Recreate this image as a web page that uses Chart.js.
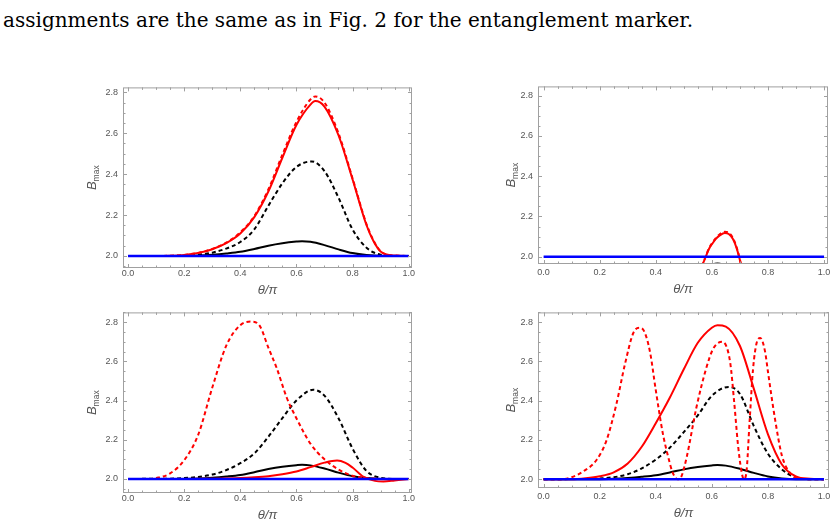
<!DOCTYPE html>
<html>
<head>
<meta charset="utf-8">
<script src="https://cdn.jsdelivr.net/npm/chart.js@4.4.1/dist/chart.umd.min.js"></script>
<style>
  body { margin: 0; background: #fff; width: 836px; height: 526px; overflow: hidden; position: relative; }
  .panel { position: absolute; }
  #caption { position: absolute; left: 3px; top: 7px; white-space: nowrap; font-family: "DejaVu Serif", serif; font-size: 20px; line-height: 26px; color: #000; }
</style>
</head>
<body>
<div id="caption">assignments are the same as in Fig. 2 for the entanglement marker.</div>
<canvas class="panel" id="c1"></canvas>
<canvas class="panel" id="c2"></canvas>
<canvas class="panel" id="c3"></canvas>
<canvas class="panel" id="c4"></canvas>
<script>
// tick labels
const X_TICKS = [0, 0.2, 0.4, 0.6, 0.8, 1.0];
const Y_TICKS = [2.0, 2.2, 2.4, 2.6, 2.8];

// [theta/pi, Bmax]
const blueLine = [[0, 2.0], [1, 2.0]];

// top left
const p1BlackSolid = [[0,2.0],[0.2,2.0],[0.25,2.002],[0.3,2.006],[0.35,2.012],[0.4,2.02],[0.45,2.034],[0.5,2.05],[0.55,2.062],[0.6,2.07],[0.62,2.072],[0.65,2.069],[0.7,2.053],[0.75,2.032],[0.8,2.014],[0.85,2.004],[0.9,2.0],[1,2.0]];
const p1BlackDashed = [[0,2.0],[0.15,2.0],[0.2,2.002],[0.25,2.006],[0.3,2.016],[0.35,2.036],[0.4,2.068],[0.45,2.13],[0.5,2.245],[0.55,2.355],[0.6,2.435],[0.655,2.462],[0.7,2.415],[0.75,2.285],[0.8,2.13],[0.85,2.04],[0.9,2.006],[0.95,2.0],[1,2.0]];
const p1RedSolid = [[0,2.0],[0.1,2.0],[0.15,2.001],[0.2,2.005],[0.25,2.015],[0.3,2.033],[0.35,2.063],[0.4,2.11],[0.45,2.19],[0.5,2.315],[0.55,2.48],[0.6,2.64],[0.65,2.74],[0.667,2.757],[0.7,2.73],[0.75,2.59],[0.8,2.375],[0.85,2.15],[0.875,2.072],[0.9,2.022],[0.95,2.002],[1,2.0]];
const p1RedDashed = [[0,2.0],[0.1,2.0],[0.15,2.001],[0.2,2.005],[0.25,2.015],[0.3,2.034],[0.35,2.065],[0.4,2.115],[0.45,2.195],[0.5,2.325],[0.55,2.495],[0.6,2.655],[0.65,2.765],[0.667,2.78],[0.7,2.75],[0.75,2.6],[0.8,2.38],[0.85,2.155],[0.875,2.075],[0.9,2.023],[0.95,2.002],[1,2.0]];

// top right
const p2BlackSolid = [[0.59,1.94],[0.605,1.962],[0.62,1.967],[0.635,1.962],[0.65,1.94]];
const p2RedSolid = [[0.555,1.92],[0.565,1.955],[0.578,2.0],[0.59,2.04],[0.6,2.062],[0.615,2.09],[0.628,2.106],[0.646,2.118],[0.66,2.113],[0.675,2.088],[0.687,2.048],[0.697,2.0],[0.704,1.96],[0.71,1.93]];
const p2RedDashed = [[0.555,1.92],[0.565,1.956],[0.578,2.002],[0.59,2.043],[0.6,2.066],[0.615,2.095],[0.628,2.112],[0.646,2.124],[0.66,2.119],[0.675,2.093],[0.687,2.052],[0.697,2.003],[0.704,1.962],[0.71,1.93]];

// bottom left
const p3BlackSolid = [[0,2.0],[0.2,2.0],[0.25,2.002],[0.3,2.006],[0.35,2.012],[0.4,2.02],[0.45,2.034],[0.5,2.05],[0.55,2.062],[0.6,2.07],[0.62,2.072],[0.65,2.069],[0.7,2.053],[0.75,2.032],[0.8,2.014],[0.85,2.004],[0.9,2.0],[1,2.0]];
const p3BlackDashed = [[0,2.0],[0.15,2.001],[0.2,2.004],[0.25,2.01],[0.3,2.022],[0.35,2.045],[0.4,2.08],[0.45,2.13],[0.5,2.215],[0.55,2.31],[0.6,2.4],[0.66,2.455],[0.7,2.425],[0.75,2.31],[0.8,2.155],[0.85,2.04],[0.9,2.006],[0.95,2.0],[1,2.0]];
const p3RedSolid = [[0,2.0],[0.2,2.0],[0.3,2.001],[0.4,2.004],[0.45,2.008],[0.5,2.014],[0.55,2.024],[0.6,2.038],[0.65,2.06],[0.7,2.083],[0.745,2.094],[0.775,2.082],[0.8,2.058],[0.84,2.01],[0.88,1.99],[0.91,1.987],[0.95,1.992],[1,2.0]];
const p3RedDashed = [[0,2.0],[0.08,2.0],[0.1,2.004],[0.15,2.028],[0.2,2.095],[0.25,2.225],[0.3,2.465],[0.35,2.68],[0.4,2.785],[0.44,2.803],[0.47,2.78],[0.5,2.67],[0.53,2.565],[0.566,2.413],[0.6,2.31],[0.65,2.18],[0.7,2.1],[0.75,2.048],[0.8,2.016],[0.85,2.004],[0.9,2.0],[1,2.0]];

// bottom right
const p4BlackSolid = [[0,2.0],[0.2,2.0],[0.25,2.002],[0.3,2.006],[0.35,2.012],[0.4,2.02],[0.45,2.034],[0.5,2.05],[0.55,2.062],[0.6,2.07],[0.62,2.072],[0.65,2.069],[0.7,2.053],[0.75,2.032],[0.8,2.014],[0.85,2.004],[0.9,2.0],[1,2.0]];
const p4BlackDashed = [[0,2.0],[0.15,2.001],[0.2,2.004],[0.25,2.01],[0.3,2.025],[0.35,2.055],[0.4,2.1],[0.45,2.16],[0.5,2.24],[0.55,2.325],[0.6,2.425],[0.66,2.47],[0.7,2.435],[0.75,2.27],[0.8,2.13],[0.85,2.05],[0.9,2.008],[0.95,2.0],[1,2.0]];
const p4RedSolid = [[0,2.0],[0.1,2.0],[0.15,2.005],[0.2,2.015],[0.25,2.035],[0.3,2.08],[0.35,2.165],[0.4,2.285],[0.45,2.415],[0.5,2.56],[0.55,2.695],[0.6,2.772],[0.62,2.785],[0.65,2.778],[0.7,2.68],[0.75,2.46],[0.8,2.23],[0.85,2.075],[0.9,2.014],[0.95,2.002],[1,2.0]];
const p4RedDashed = [[0,2.0],[0.06,2.0],[0.1,2.01],[0.14,2.038],[0.19,2.1],[0.225,2.2],[0.26,2.385],[0.29,2.585],[0.32,2.745],[0.342,2.772],[0.36,2.75],[0.38,2.645],[0.4,2.455],[0.425,2.235],[0.445,2.11],[0.46,2.035],[0.478,2.0],[0.49,2.01],[0.51,2.11],[0.545,2.365],[0.58,2.565],[0.605,2.665],[0.637,2.7],[0.665,2.6],[0.68,2.39],[0.693,2.18],[0.705,2.047],[0.714,2.0],[0.723,2.03],[0.735,2.3],[0.747,2.56],[0.76,2.695],[0.773,2.72],[0.79,2.65],[0.8,2.55],[0.825,2.31],[0.85,2.12],[0.88,2.03],[0.91,2.004],[0.95,2.0],[1,2.0]];

const RED = '#ff0000';
const BLUE = '#0000ff';
const TEXT = '#555555';
const FRAME = '#a0a0a0';

// stretch the caption to the width it has in the reference
(() => {
  const cap = document.getElementById('caption');
  const n = cap.textContent.length;
  const w = cap.getBoundingClientRect().width;
  cap.style.letterSpacing = ((690 - w) / n) + 'px';
})();

const pts = (pairs) => pairs.map(([x, y]) => ({ x, y }));

const line = (pairs, color, dashed, width) => ({
  data: pts(pairs),
  borderColor: color,
  borderWidth: width || 2,
  borderDash: dashed ? [4, 3] : [],
  pointRadius: 0,
  fill: false,
  cubicInterpolationMode: 'monotone',
});

// frame with inward ticks on all sides, plus axis titles
const framePlugin = {
  id: 'frame',
  afterDraw(chart) {
    const { ctx, chartArea: a, scales } = chart;
    const xs = scales.x, ys = scales.y;
    const o = chart.options.plugins.frame;
    ctx.save();
    ctx.strokeStyle = FRAME;
    ctx.lineWidth = 1;
    ctx.strokeRect(a.left + 0.5, a.top + 0.5, a.right - a.left - 1, a.bottom - a.top - 1);
    ctx.beginPath();
    for (let i = 0; i <= 20; i++) {
      const px = Math.round(xs.getPixelForValue(i * 0.05)) + 0.5;
      const len = i % 4 === 0 ? 4 : 2.5;
      ctx.moveTo(px, a.bottom); ctx.lineTo(px, a.bottom - len);
      ctx.moveTo(px, a.top); ctx.lineTo(px, a.top + len);
    }
    for (let k = -2; k <= 18; k++) {
      const v = 2.0 + k * 0.05;
      if (v < ys.min || v > ys.max) continue;
      const py = Math.round(ys.getPixelForValue(v)) + 0.5;
      const len = k % 4 === 0 ? 4 : 2.5;
      ctx.moveTo(a.left, py); ctx.lineTo(a.left + len, py);
      ctx.moveTo(a.right, py); ctx.lineTo(a.right - len, py);
    }
    ctx.stroke();

    ctx.fillStyle = TEXT;
    // x title
    ctx.font = 'italic 13px "Liberation Sans"';
    ctx.textAlign = 'center';
    ctx.textBaseline = 'middle';
    ctx.fillText('\u03b8/\u03c0', (a.left + a.right) / 2, a.bottom + o.xTitle);
    // y title B_max
    ctx.translate(a.left - o.yTitle, (a.top + a.bottom) / 2);
    ctx.rotate(-Math.PI / 2);
    ctx.textAlign = 'left';
    ctx.textBaseline = 'alphabetic';
    ctx.font = 'italic 13px "Liberation Sans"';
    const wB = ctx.measureText('B').width;
    ctx.font = '8.5px "Liberation Sans"';
    const wM = ctx.measureText('max').width;
    const x0 = -(wB + wM) / 2;
    ctx.font = 'italic 13px "Liberation Sans"';
    ctx.fillText('B', x0, 3);
    ctx.font = '8.5px "Liberation Sans"';
    ctx.fillText('max', x0 + wB, 6);
    ctx.restore();
  },
};

const PAD_L = 45, PAD_T = 8, PAD_R = 8, PAD_B = 33;

function makePanel(id, frame, xRange, yRange, look, datasets) {
  const canvas = document.getElementById(id);
  const w = frame.right - frame.left + PAD_L + PAD_R;
  const h = frame.bottom - frame.top + PAD_T + PAD_B;
  canvas.width = w;
  canvas.height = h;
  canvas.style.left = (frame.left - PAD_L) + 'px';
  canvas.style.top = (frame.top - PAD_T) + 'px';
  canvas.style.width = w + 'px';
  canvas.style.height = h + 'px';

  return new Chart(canvas, {
    type: 'line',
    data: { datasets },
    options: {
      responsive: false,
      animation: false,
      devicePixelRatio: 1,
      layout: { padding: { left: 0, top: PAD_T, right: PAD_R, bottom: 0 } },
      plugins: {
        legend: { display: false },
        tooltip: { enabled: false },
        frame: { xTitle: look.xTitle, yTitle: look.yTitle },
      },
      scales: {
        x: {
          type: 'linear',
          min: xRange[0],
          max: xRange[1],
          grid: { display: false, drawTicks: false },
          border: { display: false },
          afterBuildTicks: (s) => { s.ticks = X_TICKS.map((v) => ({ value: v })); },
          afterFit: (s) => { s.height = PAD_B; },
          ticks: {
            padding: look.xPad,
            color: TEXT,
            font: { family: 'Liberation Sans', size: 9 },
            maxRotation: 0,
            callback: (v) => v.toFixed(1),
          },
        },
        y: {
          type: 'linear',
          min: yRange[0],
          max: yRange[1],
          grid: { display: false, drawTicks: false },
          border: { display: false },
          afterBuildTicks: (s) => { s.ticks = Y_TICKS.map((v) => ({ value: v })); },
          afterFit: (s) => { s.width = PAD_L; },
          ticks: {
            padding: 5,
            color: TEXT,
            font: { family: 'Liberation Sans', size: 9 },
            callback: (v) => v.toFixed(1),
          },
        },
      },
    },
    plugins: [framePlugin],
  });
}

const LEFT_LOOK = { xPad: 0, xTitle: 22, yTitle: 30 };
const RIGHT_LOOK = { xPad: 3, xTitle: 25, yTitle: 26.5 };

makePanel('c1', { left: 123, top: 85, right: 412, bottom: 268 }, [-0.018, 1.012], [1.941, 2.824], LEFT_LOOK, [
  line(blueLine, BLUE, false, 2.5),
  line(p1RedDashed, RED, true),
  line(p1RedSolid, RED, false),
  line(p1BlackDashed, '#000', true),
  line(p1BlackSolid, '#000', false),
]);

makePanel('c2', { left: 538, top: 84, right: 828, bottom: 264 }, [-0.02, 1.014], [1.964, 2.846], RIGHT_LOOK, [
  line(blueLine, BLUE, false, 2.5),
  line(p2RedDashed, RED, true),
  line(p2RedSolid, RED, false),
  line(p2BlackSolid, '#000', false),
]);

makePanel('c3', { left: 123, top: 310, right: 412, bottom: 493 }, [-0.018, 1.012], [1.928, 2.85], LEFT_LOOK, [
  line(blueLine, BLUE, false, 2.5),
  line(p3RedDashed, RED, true),
  line(p3RedSolid, RED, false),
  line(p3BlackDashed, '#000', true),
  line(p3BlackSolid, '#000', false),
]);

makePanel('c4', { left: 538, top: 310, right: 829, bottom: 488 }, [-0.02, 1.018], [1.955, 2.85], RIGHT_LOOK, [
  line(blueLine, BLUE, false, 2.5),
  line(p4RedDashed, RED, true),
  line(p4RedSolid, RED, false),
  line(p4BlackDashed, '#000', true),
  line(p4BlackSolid, '#000', false),
]);
</script>
</body>
</html>
